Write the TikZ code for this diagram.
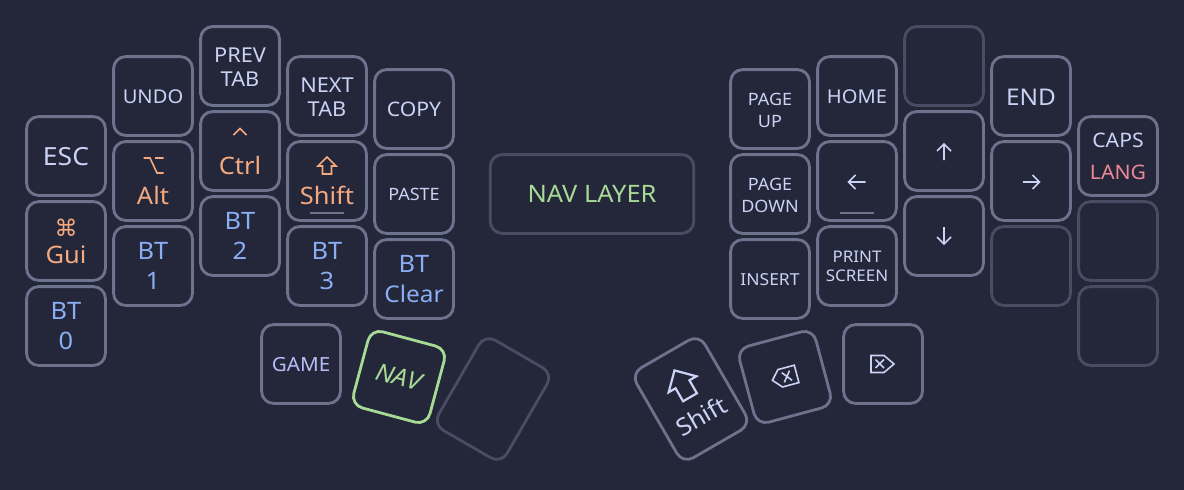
\documentclass[tikz,border=0pt]{standalone}
\usepackage{fontspec}
\setmainfont[FakeStretch=1.06]{Noto Sans}
\definecolor{bgc}{HTML}{24273A}
\definecolor{txt}{HTML}{CAD3F5}
\definecolor{edge}{HTML}{6E738D}
\definecolor{dim}{HTML}{494D64}
\definecolor{peach}{HTML}{F5A97F}
\definecolor{bluek}{HTML}{8AADF4}
\definecolor{greenk}{HTML}{A6DA95}
\definecolor{redk}{HTML}{ED8796}
\definecolor{lav}{HTML}{B7BDF8}
\newcommand{\fs}[1]{\fontsize{#1}{#1}\selectfont}
\tikzset{
 x=1pt,y=-1pt,
 kbox/.style={draw=edge,rounded corners=12pt,line width=2.8pt,minimum width=78.8pt,minimum height=78.8pt,inner sep=0pt},
 kdim/.style={kbox,draw=dim},
 kgreen/.style={kbox,draw=greenk},
 kwide/.style={kdim,minimum width=203.5pt},
 ktall/.style={minimum height=104pt},
 lbl/.style={anchor=base,inner sep=0pt,text=txt,transform shape},
 lorange/.style={lbl,text=peach},
 lblue/.style={lbl,text=bluek},
 icon/.style={line width=1.6pt,draw=txt,line join=miter},
 iconp/.style={line width=1.6pt,draw=peach},
 under/.style={line width=1.6pt,draw=edge}
}
\begin{document}
\begin{tikzpicture}
\useasboundingbox (0,0) rectangle (1184,490);
\fill[bgc] (0,0) rectangle (1184,490);
% column 0
\node[kbox] (esc) at (66,156) {};
\node[kbox] (gui) at (66,241) {};
\node[kbox] (bt0) at (66,326) {};
\node[lbl,font=\fs{25}] (tesc) at (66,165) {ESC};
\node[lorange,font=\fs{23}] (tcmd) at (66,236) {\fontspec{DejaVu Sans}⌘};
\node[lorange,font=\fs{24}] (tgui) at (66,263) {Gui};
\node[lblue,font=\fs{24}] (tb0a) at (66,319) {BT};
\node[lblue,font=\fs{24}] (tb0b) at (66,349) {0};
% column 1
\node[kbox] (undo) at (153,96) {};
\node[kbox] (alt) at (153,181) {};
\node[kbox] (bt1) at (153,266) {};
\node[lbl,font=\fs{19}] (tundo) at (153,103) {UNDO};
\draw[iconp] (143.5,158) -- (150,158) -- (157,173) -- (163.5,173) (155,158) -- (163.5,158);
\node[lorange,font=\fs{24}] (talt) at (153,204) {Alt};
\node[lblue,font=\fs{24}] (tb1a) at (153,259) {BT};
\node[lblue,font=\fs{24}] (tb1b) at (153,289) {1};
% column 2
\node[kbox] (prev) at (240,66) {};
\node[kbox] (ctrl) at (240,151) {};
\node[kbox] (bt2) at (240,236) {};
\node[lbl,font=\fs{20.5}] (tpa) at (240,62) {PREV};
\node[lbl,font=\fs{20.5}] (tpb) at (240,86) {TAB};
\draw[iconp] (233.5,135) -- (240,128.5) -- (246.5,135);
\node[lorange,font=\fs{24}] (tctrl) at (240,174) {Ctrl};
\node[lblue,font=\fs{24}] (tb2a) at (240,229) {BT};
\node[lblue,font=\fs{24}] (tb2b) at (240,259) {2};
% column 3
\node[kbox] (next) at (327,96) {};
\node[kbox] (shl) at (327,181) {};
\node[kbox] (bt3) at (327,266) {};
\node[lbl,font=\fs{20.5}] (tna) at (327,92) {NEXT};
\node[lbl,font=\fs{20.5}] (tnb) at (327,116) {TAB};
\draw[iconp] (327,157) -- (336,166) -- (331.5,166) -- (331.5,174) -- (322.5,174) -- (322.5,166) -- (318,166) -- cycle;
\node[lorange,font=\fs{24}] (tshift) at (327,204) {Shift};
\draw[under] (310,213) -- (344,213);
\node[lblue,font=\fs{24}] (tb3a) at (327,259) {BT};
\node[lblue,font=\fs{24}] (tb3b) at (327,289) {3};
% column 4
\node[kbox] (copy) at (414,109) {};
\node[kbox] (paste) at (414,194) {};
\node[kbox] (clear) at (414,279) {};
\node[lbl,font=\fs{20}] (tcopy) at (414,116) {COPY};
\node[lbl,font=\fs{17}] (tpaste) at (414,200) {PASTE};
\node[lblue,font=\fs{24}] (tca) at (414,272) {BT};
\node[lblue,font=\fs{23}] (tcb) at (414,302) {Clear};
% banner
\node[kwide] (layer) at (592,194) {};
\node[lbl,text=greenk,font=\fs{24}] (tlayer) at (592,202) {NAV LAYER};
% right col 0
\node[kbox] (pgup) at (770,109) {};
\node[kbox] (pgdn) at (770,194) {};
\node[kbox] (ins) at (770,279) {};
\node[lbl,font=\fs{17}] (tpua) at (770,105) {PAGE};
\node[lbl,font=\fs{17}] (tpub) at (770,127) {UP};
\node[lbl,font=\fs{17}] (tpda) at (770,190) {PAGE};
\node[lbl,font=\fs{17}] (tpdb) at (770,212) {DOWN};
\node[lbl,font=\fs{16.5}] (tins) at (770,285) {INSERT};
% right col 1
\node[kbox] (home) at (857,96) {};
\node[kbox] (left) at (857,181) {};
\node[kbox] (print) at (857,266) {};
\node[lbl,font=\fs{19}] (thome) at (857,103) {HOME};
\draw[icon] (865.5,182) -- (849,182) (855.5,175) -- (848.5,182) -- (855.5,189);
\draw[under] (840,213) -- (874,213);
\node[lbl,font=\fs{16}] (tpra) at (857,262) {PRINT};
\node[lbl,font=\fs{16}] (tprb) at (857,281) {SCREEN};
% right col 2
\node[kbox,draw=dim] (b1) at (944,66) {};
\node[kbox] (up) at (944,151) {};
\node[kbox] (down) at (944,236) {};
\draw[icon] (944,160) -- (944,144) (937,151) -- (944,144) -- (951,151);
\draw[icon] (944,227) -- (944,244) (937,237) -- (944,244) -- (951,237);
% right col 3
\node[kbox] (endk) at (1031,96) {};
\node[kbox] (right) at (1031,181) {};
\node[kbox,draw=dim] (b2) at (1031,266) {};
\node[lbl,font=\fs{23}] (tend) at (1031,105) {END};
\draw[icon] (1023,182) -- (1039,182) (1032.5,175) -- (1039.5,182) -- (1032.5,189);
% right col 4
\node[kbox] (caps) at (1118,156) {};
\node[kbox,draw=dim] (b3) at (1118,241) {};
\node[kbox,draw=dim] (b4) at (1118,326) {};
\node[lbl,font=\fs{20}] (tcaps) at (1118,147) {CAPS};
\node[lbl,text=redk,font=\fs{20}] (tlang) at (1118,179) {LANG};
% left thumbs
\node[kbox] (game) at (301,364) {};
\node[lbl,text=lav,font=\fs{19.5}] (tgame) at (301,371) {GAME};
\begin{scope}[shift={(399,377)},rotate=-15]
\node[kgreen,transform shape] (nav) at (0,0) {};
\node[lbl,text=greenk,font=\fs{24}\itshape] (tnav) at (0,8.5) {NAV};
\end{scope}
\begin{scope}[shift={(493,399)},rotate=-30]
\node[kdim,ktall,transform shape] (blank) at (0,0) {};
\end{scope}
% right thumbs
\begin{scope}[shift={(691,399)},rotate=30]
\node[kbox,ktall,transform shape] (shr) at (0,0) {};
\draw[icon,line width=2.2pt] (0,-33) -- (16,-17) -- (8,-17) -- (8,-2) -- (-8,-2) -- (-8,-17) -- (-16,-17) -- cycle;
\node[lbl,font=\fs{24}] (tshr) at (0,29) {Shift};
\end{scope}
\begin{scope}[shift={(785,377)},rotate=15]
\node[kbox,transform shape] (bksp) at (0,0) {};
\draw[icon] (-13,0) -- (-5,-9) -- (12,-9) -- (12,9) -- (-5,9) -- cycle (-2,-5) -- (6,5) (6,-5) -- (-2,5);
\end{scope}
\node[kbox] (del) at (883,364) {};
\draw[icon] (871,355.5) -- (884,355.5) -- (894,364) -- (884,372.5) -- (871,372.5) -- cycle (875.5,359.5) -- (884,368) (884,359.5) -- (875.5,368);
\end{tikzpicture}
\end{document}
